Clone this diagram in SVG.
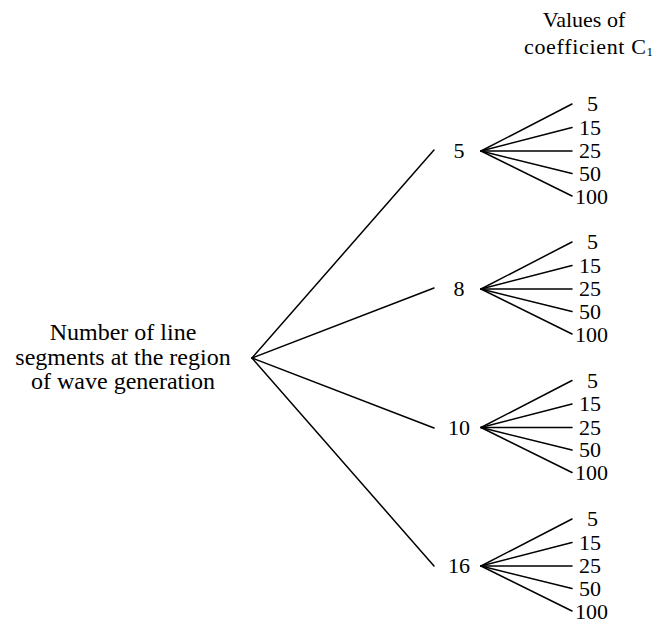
<svg xmlns="http://www.w3.org/2000/svg" width="652" height="624" viewBox="0 0 652 624" font-family="'Liberation Serif', Tinos, 'Times New Roman', Times, serif">
<style>
text{font-family:'Liberation Serif',Tinos,'Times New Roman',Times,serif;fill:#000;font-size:22px}
.big{font-size:24px}
.mid{text-anchor:middle}
line{stroke:#000;stroke-width:1.5;stroke-linecap:round}
</style>
<rect width="652" height="624" fill="#fff"/>
<g id="header">
<text class="mid" x="584" y="27">Values of</text>
<text x="524" y="54" textLength="122" lengthAdjust="spacing">coefficient C</text>
<text x="646.5" y="56" style="font-size:13px">1</text>
</g>
<g id="root">
<text class="big mid" x="123" y="340">Number of line</text>
<text class="big mid" x="123" y="364.5">segments at the region</text>
<text class="big mid" x="123" y="389">of wave generation</text>
</g>
<g id="connectors">
<line x1="252" y1="358" x2="434" y2="150"/>
<line x1="252" y1="358" x2="434" y2="288"/>
<line x1="252" y1="358" x2="434" y2="428"/>
<line x1="252" y1="358" x2="434" y2="566"/>
<g transform="translate(0,151)">
<line x1="481" y1="0" x2="572" y2="-47"/><line x1="481" y1="0" x2="572" y2="-23.5"/><line x1="481" y1="0" x2="572" y2="0"/><line x1="481" y1="0" x2="572" y2="22.5"/><line x1="481" y1="0" x2="572" y2="45"/>
</g>
<g transform="translate(0,289)">
<line x1="481" y1="0" x2="572" y2="-47"/><line x1="481" y1="0" x2="572" y2="-23.5"/><line x1="481" y1="0" x2="572" y2="0"/><line x1="481" y1="0" x2="572" y2="22.5"/><line x1="481" y1="0" x2="572" y2="45"/>
</g>
<g transform="translate(0,427.5)">
<line x1="481" y1="0" x2="572" y2="-47"/><line x1="481" y1="0" x2="572" y2="-23.5"/><line x1="481" y1="0" x2="572" y2="0"/><line x1="481" y1="0" x2="572" y2="22.5"/><line x1="481" y1="0" x2="572" y2="45"/>
</g>
<g transform="translate(0,566)">
<line x1="481" y1="0" x2="572" y2="-47"/><line x1="481" y1="0" x2="572" y2="-23.5"/><line x1="481" y1="0" x2="572" y2="0"/><line x1="481" y1="0" x2="572" y2="22.5"/><line x1="481" y1="0" x2="572" y2="45"/>
</g>
</g>
<g id="n5"><text class="mid" x="459" y="158">5</text></g>
<g id="n8"><text class="mid" x="459" y="296">8</text></g>
<g id="n10"><text class="mid" x="459" y="434.5">10</text></g>
<g id="n16"><text class="mid" x="459" y="573">16</text></g>
<g id="c5" transform="translate(0,151)">
<text x="587" y="-40">5</text><text x="579" y="-16.5">15</text><text x="579" y="7">25</text><text x="579" y="29.5">50</text><text x="575" y="52.5">100</text>
</g>
<g id="c8" transform="translate(0,289)">
<text x="587" y="-40">5</text><text x="579" y="-16.5">15</text><text x="579" y="7">25</text><text x="579" y="29.5">50</text><text x="575" y="52.5">100</text>
</g>
<g id="c10" transform="translate(0,427.5)">
<text x="587" y="-40">5</text><text x="579" y="-16.5">15</text><text x="579" y="7">25</text><text x="579" y="29.5">50</text><text x="575" y="52.5">100</text>
</g>
<g id="c16" transform="translate(0,566)">
<text x="587" y="-40">5</text><text x="579" y="-16.5">15</text><text x="579" y="7">25</text><text x="579" y="29.5">50</text><text x="575" y="52.5">100</text>
</g>
</svg>
